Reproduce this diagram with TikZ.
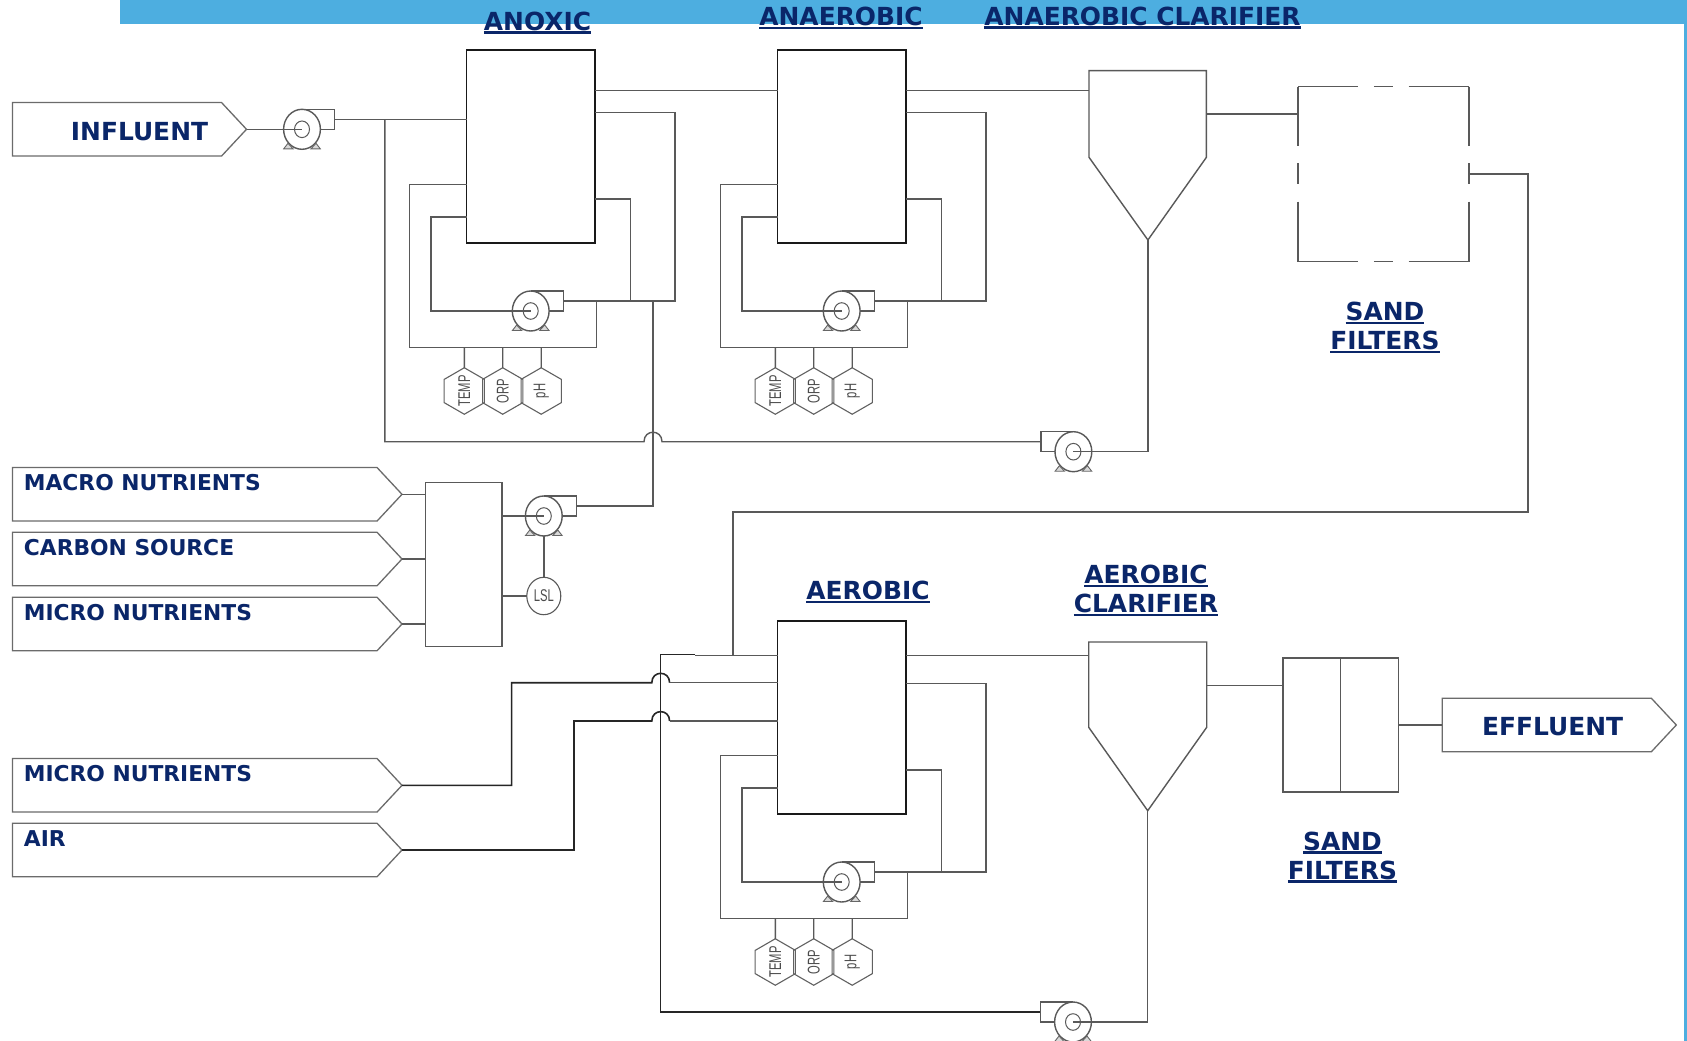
\documentclass[tikz,border=0pt]{standalone}
\usepackage{fontspec}
\setmainfont{DejaVu Sans}
\newfontfamily\instrfont[FakeStretch=0.66]{Liberation Sans}
\usepackage{xcolor}
\usetikzlibrary{shapes.geometric, shapes.symbols, positioning, calc}
\definecolor{bandblue}{HTML}{4DAEE0}
\definecolor{labelblue}{HTML}{0A2669}
\newcommand{\headul}[1]{\leavevmode\setbox0=\hbox{#1}\rlap{\rule[-3.8pt]{\wd0}{2.7pt}}\box0}
\tikzset{pump/.pic={
  \draw[pipe] (0,-20) -- (32.6,-20) -- (32.6,0) -- (12,0);
  \draw[pipe, fill=white] (0,0) ellipse [x radius=18.4, y radius=20];
  \draw[black!65, line width=1pt] (0,0) ellipse [x radius=7.5, y radius=8.3];
  \draw[black!60, fill=black!15, line width=0.9pt] (-18.3,19.5) -- (-14,14) -- (-9,19.5) -- cycle;
  \draw[black!60, fill=black!15, line width=0.9pt] (18.3,19.5) -- (14,14) -- (9,19.5) -- cycle;
  \coordinate (-in) at (0,0);
  \coordinate (-out) at (32.6,-10);
}}

\begin{document}
\begin{tikzpicture}[x=1pt, y=-1pt]
\tikzstyle{pipe} = [draw, black!65, line width=1.4pt]
\tikzstyle{darkpipe} = [draw, black!85, line width=1.6pt]
\tikzstyle{hump} = [out=90, in=90, looseness=1.8]
\tikzstyle{tank} = [rectangle, draw=black!90, minimum width=128.5pt, minimum height=192.7pt, inner sep=0pt, outer sep=0pt, line width=1.8pt]
\tikzstyle{box} = [rectangle, draw=black!65, inner sep=0pt, outer sep=0pt, line width=1.4pt]
\tikzstyle{sensor} = [regular polygon, regular polygon sides=6, draw=black!62, minimum size=46.5pt, inner sep=0pt, outer sep=0pt, rotate=90, line width=1.1pt, font=\instrfont\fontsize{17}{17}\selectfont, text=black!70]
\tikzstyle{feedtag} = [signal, signal to=east, signal pointer angle=94, draw=black!58, inner sep=0pt, outer sep=0pt, anchor=east, minimum height=53.5pt, line width=1.3pt]
\tikzstyle{taglabel} = [anchor=base west, inner sep=0pt, text=labelblue, font=\fontsize{21.8}{26}\selectfont\bfseries]
\tikzstyle{bigtag} = [anchor=base, inner sep=0pt, text=labelblue, font=\fontsize{24.9}{29}\selectfont\bfseries]
\tikzstyle{head} = [anchor=base, inner sep=0pt, align=center, text=labelblue, font=\fontsize{24.9}{29}\selectfont\bfseries]
\tikzstyle{sidedash} = [draw, black!65, line width=1.4pt]

\useasboundingbox (0,0) rectangle (1687,1041);
\fill[white] (0,0) rectangle (1687,1041);
\fill[bandblue] (120,0) rectangle (1687,24);
\fill[bandblue] (1684,0) rectangle (1687,1041);

\foreach \tankid/\dx/\dy in {anoxic/0/0, anaerobic/311/0, aerobic/311/571} {
\begin{scope}[shift={(\dx,\dy)}]
\node (\tankid) [tank] at (530.75,146.35) {};
\pic (\tankid pump) at (530.7,311) {pump};
\draw [pipe] (\tankid.east |- 0,112.3) -| (675,301) -- (\tankid pump-out);
\draw [pipe] (\tankid.east |- 0,199) -| (630.4,301);
\draw [pipe] (\tankid pump-in) -| (430.8,217) -- (\tankid.west |- 0,217);
\draw [pipe] (\tankid.west |- 0,184.3) -| (409.4,347.7) -| (596.4,301);
\foreach \sensname/\sensx in {TEMP/464.3, ORP/502.7, pH/541.2} {
\node (\tankid\sensname) [sensor] at (\sensx,391) {\makebox[0pt]{\sensname}};
\draw [pipe] (\tankid\sensname.east) -- (\sensx,347.7);
}
\end{scope}
}

\foreach \tagid/\tagy/\tagtext in {macro/494.3/MACRO NUTRIENTS, carbon/559/CARBON SOURCE, micro/624/MICRO NUTRIENTS, microfeed/785.3/MICRO NUTRIENTS, air/850/AIR} {
\node (\tagid) [feedtag, minimum width=389.5pt] at (402,\tagy) {};
\node (\tagid text) [taglabel] at (23.7,\tagy-3.5) {\tagtext};
}
\node (influent) [feedtag, minimum width=234pt] at (246.5,129.3) {};
\node (influent text) [bigtag] at (139.5,140) {INFLUENT};
\node (effluent) [feedtag, minimum width=234pt] at (1676.3,725) {};
\node (effluent text) [bigtag] at (1552.6,735) {EFFLUENT};

\pic (feedpump) at (302,129.3) {pump};
\pic (dosepump) at (543.8,516) {pump};
\pic [xscale=-1] (returnpump) at (1073.4,451.7) {pump};
\pic [xscale=-1] (bottompump) at (1073,1022) {pump};

\node (mixtank) [box, minimum width=76.4pt, minimum height=164pt] at (463.6,564.3) {};
\node (lsl) [ellipse, draw=black!65, line width=1.1pt, minimum width=34pt, minimum height=37.4pt, inner sep=0pt, outer sep=0pt, font=\instrfont\fontsize{17}{17}\selectfont, text=black!70] at (543.8,596) {LSL};

\draw [pipe] (1089,70.7) -- (1206.4,70.7) -- (1206.4,157.3) -- (1147.9,240) -- (1089,157.3) -- cycle;
\coordinate (uppertip) at (1147.9,240);
\draw [pipe] (1088.7,642) -- (1206.7,642) -- (1206.7,727.3) -- (1147.7,810.7) -- (1088.7,727.3) -- cycle;
\coordinate (lowertip) at (1147.7,810.7);
\coordinate (upperleft) at (1089,90.7);
\coordinate (upperright) at (1206.4,114);
\coordinate (lowerleft) at (1088.7,655.4);
\coordinate (lowerright) at (1206.7,685.3);

\node (sandone) [minimum width=171.2pt, minimum height=175pt, inner sep=0pt, outer sep=0pt] at (1383.4,174.2) {};
\draw [sidedash, dash pattern=on 59.7pt off 16.3pt on 19.5pt off 15.4pt on 60pt] (sandone.north west) -- (sandone.north east);
\draw [sidedash, dash pattern=on 59.7pt off 16.3pt on 19.5pt off 15.4pt on 60pt] (sandone.south west) -- (sandone.south east);
\draw [sidedash, dash pattern=on 59.3pt off 17.3pt on 20.7pt off 17.7pt on 60pt] (sandone.north west) -- (sandone.south west);
\draw [sidedash, dash pattern=on 59.3pt off 17.3pt on 20.7pt off 17.7pt on 60pt] (sandone.north east) -- (sandone.south east);
\node (sandtwo) [box, minimum width=115.2pt, minimum height=134pt] at (1340.6,725) {};
\draw [pipe] (sandtwo.north) -- (sandtwo.south);

\draw [pipe] (influent.east) -- (feedpump-in);
\draw [pipe] (feedpump-out) -- (anoxic.west |- feedpump-out);
\draw [pipe] (anoxic.east |- 0,90.7) -- (anaerobic.west |- 0,90.7);
\draw [pipe] (anaerobic.east |- 0,90.7) -- (upperleft);
\draw [pipe] (upperright) -- (sandone.west |- upperright);
\draw [pipe] (384.8,119.3) |- (644,441.7) to[hump] (662,441.7) -- (returnpump-out);
\draw [pipe] (returnpump-in) -| (uppertip);
\draw [pipe] (653,300.3) |- (dosepump-out);
\draw [pipe] (macro.east) -- (mixtank.west |- macro.east);
\draw [pipe] (carbon.east) -- (mixtank.west |- carbon.east);
\draw [pipe] (micro.east) -- (mixtank.west |- micro.east);
\draw [pipe] (mixtank.east |- dosepump-in) -- (dosepump-in);
\draw [pipe] (mixtank.east |- lsl.west) -- (lsl.west);
\draw [pipe] (dosepump-in) ++(0,20) -- (lsl.north);
\draw [pipe] (sandone.east |- 0,174) -| (1528,512) -| (733,655.4);
\draw [pipe] (aerobic.west |- lowerleft) -- (695,655.4);
\draw [darkpipe] (695,654.6) -- (660.4,654.6) -- (660.4,1012) -- (bottompump-out);
\draw [darkpipe] (microfeed.east) -| (511.6,682.7) -- (651.8,682.7) to[hump] (669.6,682.7);
\draw [pipe] (669.6,682.7) -- (aerobic.west |- 0,682.7);
\draw [darkpipe] (air.east) -| (574,721) -- (651.8,721) to[hump] (669.6,721);
\draw [pipe] (669.6,721) -- (aerobic.west |- 0,721);
\draw [pipe] (aerobic.east |- lowerleft) -- (lowerleft);
\draw [pipe] (bottompump-in) -| (lowertip);
\draw [pipe] (lowerright) -- (sandtwo.west |- lowerright);
\draw [pipe] (sandtwo.east) -- (effluent.west);

\node (anoxichead) [head] at (537.5,30.3) {\headul{ANOXIC}};
\node (anaerobichead) [head] at (841,25.5) {\headul{ANAEROBIC}};
\node (clarifierhead) [head] at (1142.5,25.3) {\headul{ANAEROBIC CLARIFIER}};
\node (aerobichead) [head] at (868,599.5) {\headul{AEROBIC}};
\node (aeroclarhead) [head] at (1146,612.5) {\headul{AEROBIC}\\\headul{CLARIFIER}};
\node (sandhead) [head] at (1385,349.5) {\headul{SAND}\\\headul{FILTERS}};
\node (sandtwohead) [head] at (1342.5,879) {\headul{SAND}\\\headul{FILTERS}};
\end{tikzpicture}
\end{document}
